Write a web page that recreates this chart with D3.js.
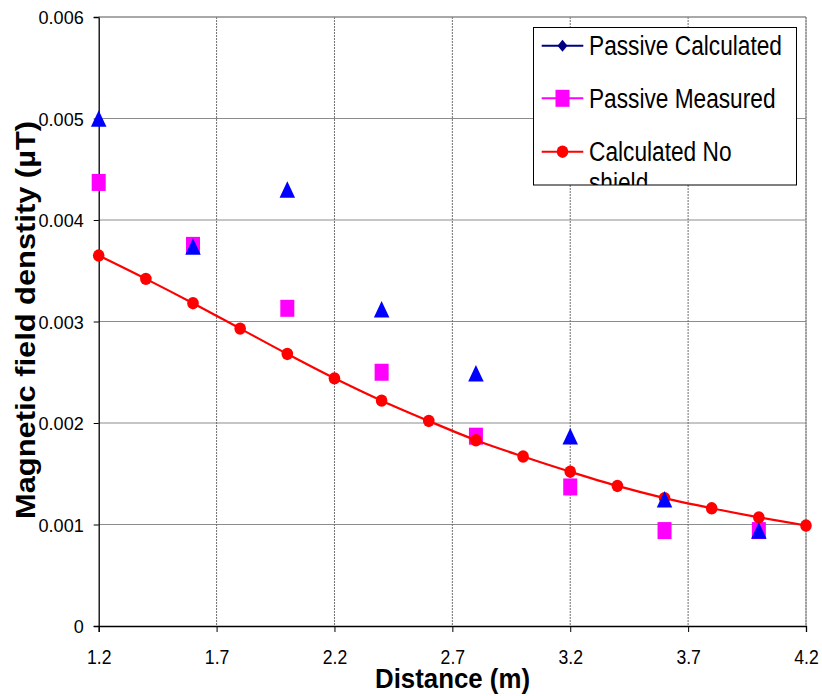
<!DOCTYPE html>
<html>
<head>
<meta charset="utf-8">
<script src="https://cdn.jsdelivr.net/npm/d3@7"></script>
<style>
  html, body { margin: 0; padding: 0; background: #fff; }
  svg { display: block; }
  text { font-family: "Liberation Sans", Arial, sans-serif; fill: #000; }
</style>
</head>
<body>
<svg id="chart" width="822" height="696"></svg>
<script>
// ---- data ----
const distPassive = [1.2, 1.6, 2.0, 2.4, 2.8, 3.2, 3.6, 4.0];
const passiveCalculated = [0.00500, 0.00374, 0.00430, 0.00312, 0.00249, 0.00187, 0.00125, 0.00094];
const passiveMeasured   = [0.00437, 0.00375, 0.00313, 0.00250, 0.00187, 0.00137, 0.00094, 0.00094];
const distNoShield = [1.2, 1.4, 1.6, 1.8, 2.0, 2.2, 2.4, 2.6, 2.8, 3.0, 3.2, 3.4, 3.6, 3.8, 4.0, 4.2];
const calculatedNoShield = [0.00365, 0.00342, 0.00318, 0.00293, 0.00268, 0.00244, 0.00222, 0.00202,
                            0.00183, 0.00167, 0.00152, 0.00138, 0.00126, 0.00116, 0.00107, 0.00099];
const xTicks = [1.2, 1.7, 2.2, 2.7, 3.2, 3.7, 4.2];
const yTicks = [0, 0.001, 0.002, 0.003, 0.004, 0.005, 0.006];
const seriesNames = ["Passive Calculated", "Passive Measured", "Calculated No shield"];
const xTitle = "Distance (m)";
const yTitle = "Magnetic field denstity (\u00B5T)";

// ---- layout ----
const svg = d3.select("#chart");
const L = 98.7, R = 806, T = 17, B = 626;
const x = d3.scaleLinear().domain([1.2, 4.2]).range([L, R]);
const y = d3.scaleLinear().domain([0, 0.006]).range([B, T]);

function squeeze(sel, f) {
  sel.each(function() {
    const w = this.getComputedTextLength();
    d3.select(this).attr("textLength", w * f).attr("lengthAdjust", "spacingAndGlyphs");
  });
}

// gridlines
svg.append("g").selectAll("line").data(yTicks.filter(d => d > 0)).join("line")
  .attr("x1", L).attr("x2", R).attr("y1", d => y(d)).attr("y2", d => y(d))
  .attr("stroke", "#8c8c8c").attr("stroke-width", 1);
svg.append("g").selectAll("line").data(xTicks.filter(d => d > 1.2)).join("line")
  .attr("x1", d => x(d)).attr("x2", d => x(d)).attr("y1", T).attr("y2", B)
  .attr("stroke", "#6e6e6e").attr("stroke-width", 1).attr("stroke-dasharray", "2,1");

// axes
const xAxis = svg.append("g").attr("transform", `translate(0,${B})`)
  .call(d3.axisBottom(x).tickValues(xTicks).tickFormat(d3.format(".1f")).tickSizeOuter(0).tickSize(6));
xAxis.select(".domain").attr("stroke", "#000").attr("stroke-width", 1.3);
xAxis.selectAll(".tick line").attr("stroke", "#000");
xAxis.selectAll(".tick text").attr("font-size", 20).attr("y", 0).attr("dy", 0)
  .attr("transform", "translate(0,38)")
  .style("font-family", '"Liberation Sans", Arial, sans-serif').attr("fill", "#000");
squeeze(xAxis.selectAll(".tick text"), 0.88);

const yAxis = svg.append("g").attr("transform", `translate(${L},0)`)
  .call(d3.axisLeft(y).tickValues(yTicks).tickFormat(d => d === 0 ? "0" : d3.format(".3f")(d)).tickSizeOuter(0).tickSize(5));
yAxis.select(".domain").attr("stroke", "#000").attr("stroke-width", 1.3);
yAxis.selectAll(".tick line").attr("stroke", "#000");
yAxis.selectAll(".tick text").attr("font-size", 19).attr("x", -15).attr("dy", "0.36em")
  .style("font-family", '"Liberation Sans", Arial, sans-serif').attr("fill", "#000");
squeeze(yAxis.selectAll(".tick text"), 0.95);

// top/right border
svg.append("line").attr("x1", L).attr("x2", R).attr("y1", y(0.006)).attr("y2", y(0.006))
  .attr("stroke", "#8c8c8c");
svg.append("line").attr("x1", x(4.2)).attr("x2", x(4.2)).attr("y1", T).attr("y2", B)
  .attr("stroke", "#8c8c8c");

// markers
const sqW = 14, sqH = 17;
svg.append("g").selectAll("rect").data(distPassive.map((d, i) => [d, passiveMeasured[i]])).join("rect")
  .attr("x", d => x(d[0]) - sqW / 2).attr("y", d => y(d[1]) - sqH / 2)
  .attr("width", sqW).attr("height", sqH).attr("fill", "#ff00ff");

const noShieldPts = distNoShield.map((d, i) => [d, calculatedNoShield[i]]);
svg.append("path").datum(noShieldPts)
  .attr("d", d3.line().x(d => x(d[0])).y(d => y(d[1])).curve(d3.curveCatmullRom))
  .attr("fill", "none").attr("stroke", "#ff0000").attr("stroke-width", 2.2);
svg.append("g").selectAll("ellipse").data(noShieldPts).join("ellipse")
  .attr("cx", d => x(d[0])).attr("cy", d => y(d[1])).attr("rx", 5.8).attr("ry", 6.2)
  .attr("fill", "#ff0000");

const triW = 15.5, triH = 16.5;
svg.append("g").selectAll("path").data(distPassive.map((d, i) => [d, passiveCalculated[i]])).join("path")
  .attr("d", d => {
    const cx = x(d[0]), cy = y(d[1]);
    return `M${cx},${cy - triH / 2}L${cx + triW / 2},${cy + triH / 2}L${cx - triW / 2},${cy + triH / 2}Z`;
  })
  .attr("fill", "#0000ff");

// axis titles
const xt = svg.append("text").attr("x", 452.5).attr("y", 688).attr("text-anchor", "middle")
  .attr("font-size", 28).attr("font-weight", "bold").text(xTitle);
xt.attr("textLength", 155).attr("lengthAdjust", "spacingAndGlyphs");
const yt = svg.append("text").attr("transform", "translate(35,320) rotate(-90)").attr("text-anchor", "middle")
  .attr("font-size", 28).attr("font-weight", "bold").text(yTitle);
yt.attr("textLength", 398).attr("lengthAdjust", "spacingAndGlyphs");

// legend
const lgX = 533.5, lgY = 27.5, lgW = 263, lgH = 157.5;
svg.append("clipPath").attr("id", "lgclip").append("rect")
  .attr("x", lgX).attr("y", lgY).attr("width", lgW).attr("height", lgH);
const lg = svg.append("g");
lg.append("rect").attr("x", lgX).attr("y", lgY).attr("width", lgW).attr("height", lgH)
  .attr("fill", "#fff").attr("stroke", "#000").attr("stroke-width", 1);
const rowsY = [45.7, 98.3, 151.7];
const lgColors = ["#000080", "#ff00ff", "#ff0000"];
const textW = [193, 186.5, 142.5];
const lgi = lg.append("g").attr("clip-path", "url(#lgclip)");
rowsY.forEach((ry, i) => {
  lgi.append("line").attr("x1", 541.7).attr("x2", 583.3).attr("y1", ry).attr("y2", ry)
    .attr("stroke", lgColors[i]).attr("stroke-width", 2);
  const mx = 562.5;
  if (i === 0) {
    lgi.append("path").attr("d", `M${mx},${ry - 6}L${mx + 5},${ry}L${mx},${ry + 6}L${mx - 5},${ry}Z`).attr("fill", lgColors[i]);
  } else if (i === 1) {
    lgi.append("rect").attr("x", mx - 7).attr("y", ry - 8.5).attr("width", 14).attr("height", 17).attr("fill", lgColors[i]);
  } else {
    lgi.append("ellipse").attr("cx", mx).attr("cy", ry).attr("rx", 5.8).attr("ry", 6.2).attr("fill", lgColors[i]);
  }
  if (i < 2) {
    lgi.append("text").attr("x", 589).attr("y", ry + 9.5).attr("font-size", 27).text(seriesNames[i])
      .attr("textLength", textW[i]).attr("lengthAdjust", "spacingAndGlyphs");
  } else {
    const words = seriesNames[i].split(" ");
    lgi.append("text").attr("x", 589).attr("y", ry + 9.5).attr("font-size", 27).text(words.slice(0, 2).join(" "))
      .attr("textLength", textW[i]).attr("lengthAdjust", "spacingAndGlyphs");
    const t2 = lgi.append("text").attr("x", 589).attr("y", ry + 40).attr("font-size", 27).text(words[2]);
    squeeze(t2, 0.84);
  }
});
</script>
</body>
</html>
